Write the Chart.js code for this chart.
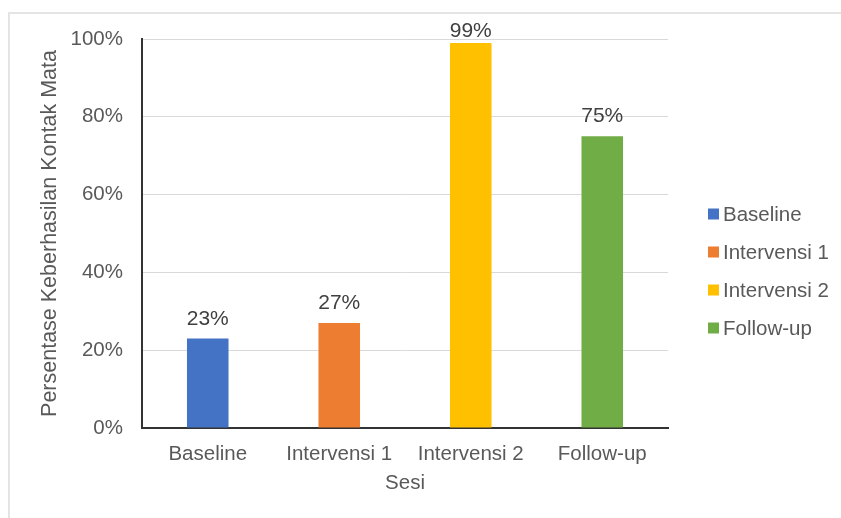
<!DOCTYPE html>
<html>
<head>
<meta charset="utf-8">
<script src="https://cdn.jsdelivr.net/npm/chart.js@4"></script>
<style>
  html, body { margin: 0; padding: 0; background: #ffffff; }
  #wrap { position: relative; width: 841px; height: 518px; }
  #frame { position: absolute; left: 8px; top: 12px; right: 0; bottom: 0;
           border-top: 2px solid #e4e4e4; border-left: 2px solid #e4e4e4; pointer-events: none; }
  canvas { position: absolute; left: 0; top: 0; }
</style>
</head>
<body>
<div id="wrap">
  <canvas id="c" width="841" height="518"></canvas>
  <div id="frame"></div>
</div>
<script>
const categories = ['Baseline', 'Intervensi 1', 'Intervensi 2', 'Follow-up'];
const values = [23, 27, 99, 75];
const barColors = ['#4472C4', '#ED7D31', '#FFC000', '#70AD47'];
const yTicks = [0, 20, 40, 60, 80, 100];
const yTitle = 'Persentase Keberhasilan Kontak Mata';
const xTitle = 'Sesi';

const FONT = "'Liberation Sans', Arial, Helvetica, sans-serif";

const valueLabels = {
  id: 'valueLabels',
  afterDatasetsDraw(chart) {
    const ctx = chart.ctx;
    const area = chart.chartArea;
    const meta = chart.getDatasetMeta(0);
    ctx.save();
    ctx.font = '21px ' + FONT;
    ctx.fillStyle = '#404040';
    ctx.textAlign = 'center';
    ctx.textBaseline = 'alphabetic';
    meta.data.forEach((bar, i) => {
      const y = Math.max(bar.y - 14, area.top - 2);
      ctx.fillText(values[i] + '%', bar.x, y);
    });
    ctx.restore();
  }
};

const sideLegend = {
  id: 'sideLegend',
  afterDraw(chart) {
    const ctx = chart.ctx;
    const area = chart.chartArea;
    const x0 = area.right + 40;
    const spacing = 38;
    const yc = 271;
    const startY = yc - spacing * (categories.length - 1) / 2;
    ctx.save();
    ctx.font = '20.5px ' + FONT;
    ctx.textAlign = 'left';
    ctx.textBaseline = 'middle';
    categories.forEach((c, i) => {
      const y = startY + i * spacing;
      ctx.fillStyle = barColors[i];
      ctx.fillRect(x0, y - 5.5, 11, 11);
      ctx.fillStyle = '#595959';
      ctx.fillText(c, x0 + 15, y + 1);
    });
    ctx.restore();
  }
};

new Chart(document.getElementById('c'), {
  type: 'bar',
  data: {
    labels: categories,
    datasets: [{
      data: values,
      backgroundColor: barColors,
      borderWidth: 0,
      categoryPercentage: 1,
      barPercentage: 0.316
    }]
  },
  options: {
    responsive: false,
    animation: false,
    devicePixelRatio: 1,
    layout: { padding: { left: 0, right: 173, top: 39, bottom: 22 } },
    plugins: {
      legend: { display: false },
      tooltip: { enabled: false }
    },
    scales: {
      x: {
        grid: { display: false, drawTicks: false },
        border: { display: true, color: '#333333', width: 2 },
        ticks: { color: '#595959', font: { family: FONT, size: 20.5 }, padding: 14, maxRotation: 0 },
        title: { display: true, text: xTitle, color: '#595959', font: { family: FONT, size: 20.5 }, padding: { top: 0, bottom: 0 } },
        afterFit(scale) { scale.height = 68; }
      },
      y: {
        min: 0,
        max: 100,
        afterBuildTicks(scale) { scale.ticks = yTicks.map(v => ({ value: v })); },
        grid: { color: '#d9d9d9', lineWidth: 1, drawTicks: false },
        border: { display: true, color: '#333333', width: 2 },
        ticks: { color: '#595959', font: { family: FONT, size: 20.5 }, padding: 19, callback: v => v + '%' },
        title: { display: true, text: yTitle, color: '#595959', font: { family: FONT, size: 21.5 }, padding: { top: 37, bottom: 0 } },
        afterFit(scale) { scale.width = 142; }
      }
    }
  },
  plugins: [valueLabels, sideLegend]
});
</script>
</body>
</html>
